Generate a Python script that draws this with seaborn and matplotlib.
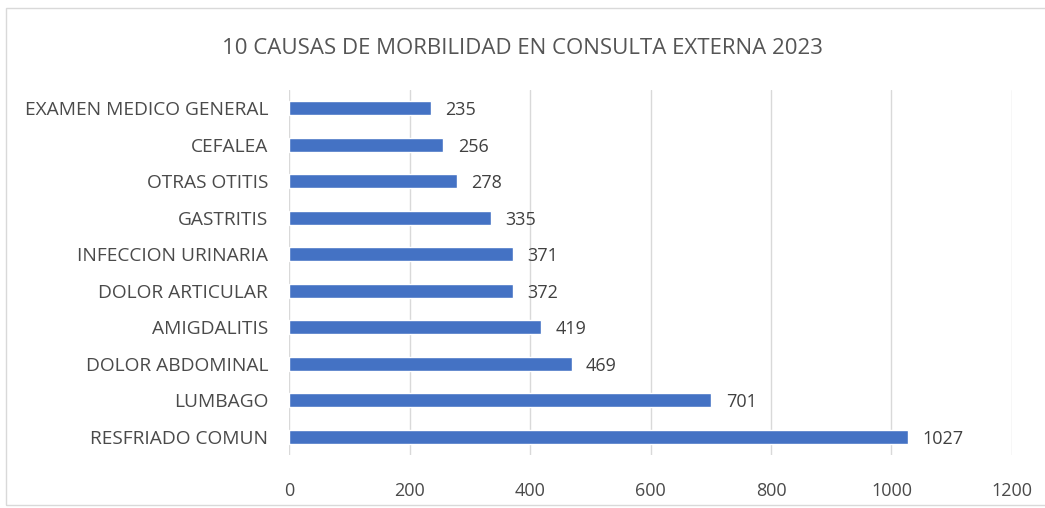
import matplotlib
matplotlib.use("Agg")
import matplotlib.pyplot as plt
import seaborn as sns
import pandas as pd

causas = ["EXAMEN MEDICO GENERAL", "CEFALEA", "OTRAS OTITIS", "GASTRITIS",
          "INFECCION URINARIA", "DOLOR ARTICULAR", "AMIGDALITIS",
          "DOLOR ABDOMINAL", "LUMBAGO", "RESFRIADO COMUN"]
casos = [235, 256, 278, 335, 371, 372, 419, 469, 701, 1027]
ticks = [0, 200, 400, 600, 800, 1000, 1200]

df = pd.DataFrame({"causa": causas, "casos": casos})

sns.set_style("white")
plt.rcParams["font.family"] = ["Open Sans", "DejaVu Sans"]
GRIS = "#4a4a4a"

fig = plt.figure(figsize=(10.45, 5.08), dpi=100)
ax = fig.add_axes([0.2766, 0.104, 0.6918, 0.719])

sns.barplot(data=df, x="casos", y="causa", color="#4472C4", width=0.38,
            saturation=1, ax=ax, zorder=3)

for i, v in enumerate(casos):
    ax.text(v + 24, i + 0.05, str(v), va="center", ha="left", fontsize=13,
            color="#404040")

ax.set_xlim(0, 1200)
ax.set_xticks(ticks)
ax.xaxis.grid(True, color="#d9d9d9", linewidth=1, zorder=0)
ax.tick_params(axis="both", length=0, labelsize=13, labelcolor=GRIS)
ax.tick_params(axis="y", labelsize=13.8, pad=15)
ax.tick_params(axis="x", pad=19)
ax.set_xlabel("")
ax.set_ylabel("")
for s in ax.spines.values():
    s.set_visible(False)

fig.text(0.5, 0.905, "10 CAUSAS DE MORBILIDAD EN CONSULTA EXTERNA 2023",
         ha="center", va="center", fontsize=16, color="#555555")

borde = plt.Rectangle((0.006, 0.006), 1.1, 0.978, transform=fig.transFigure,
                      fill=False, edgecolor="#d9d9d9", linewidth=1)
fig.patches.append(borde)

fig.savefig("out.png", dpi=100)
